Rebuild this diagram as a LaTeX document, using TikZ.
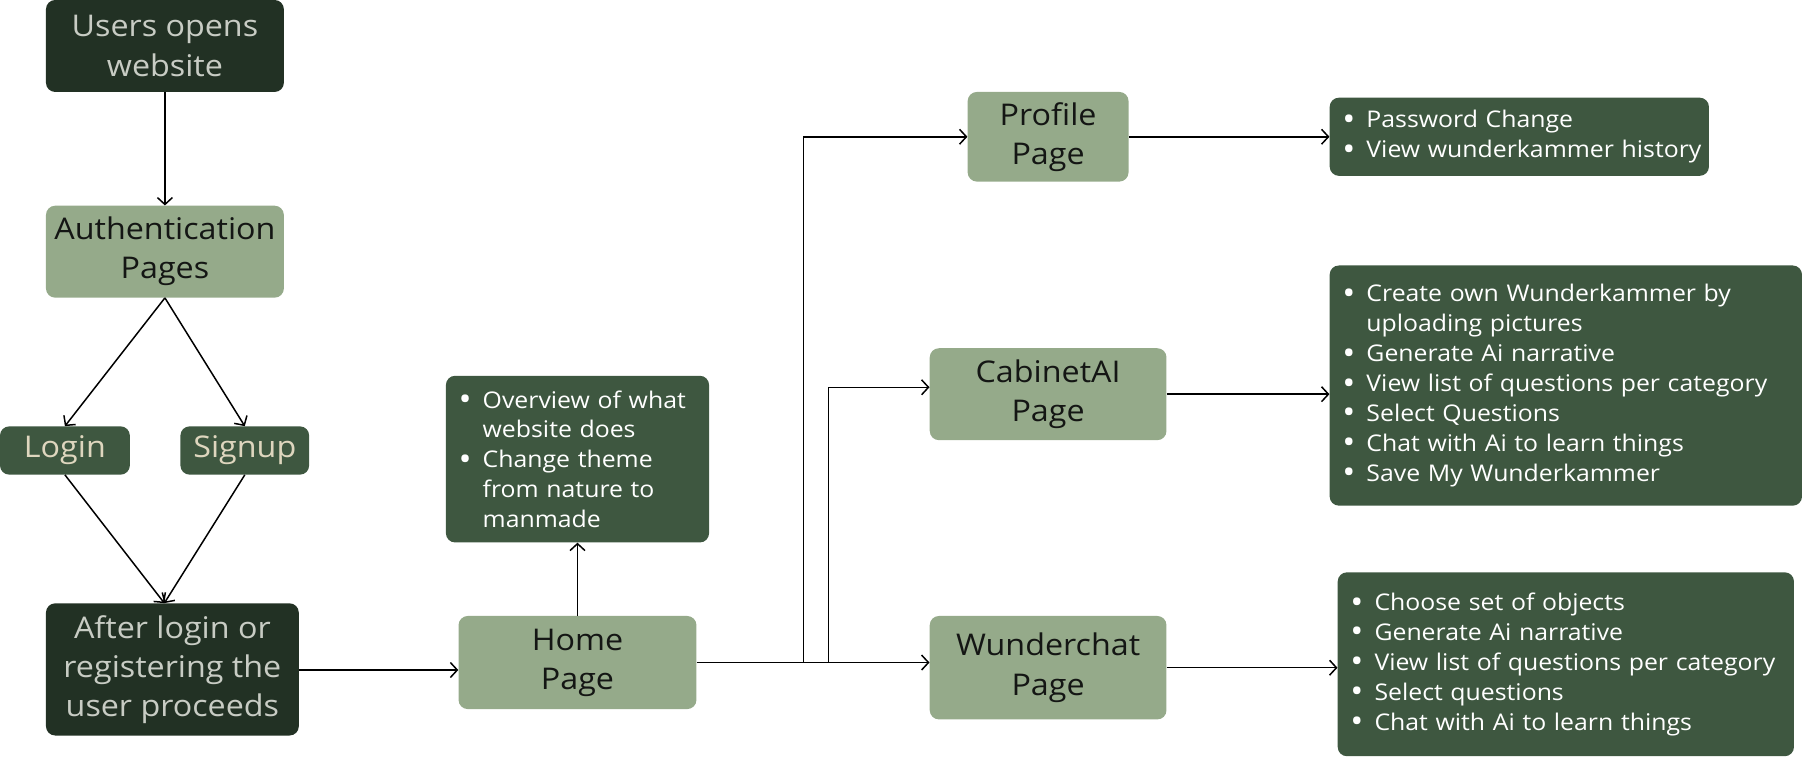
\documentclass[tikz,border=0pt]{standalone}
\usepackage{fontspec}
\setmainfont{Open Sans}[FakeStretch=1.08]
\usetikzlibrary{arrows.meta}
\definecolor{dk}{RGB}{34,49,36}
\definecolor{md}{RGB}{62,87,64}
\definecolor{lt}{RGB}{149,170,138}
\definecolor{gtxt}{RGB}{200,204,196}
\definecolor{btxt}{RGB}{222,214,190}
\definecolor{ink}{RGB}{20,22,20}
\newcommand{\myb}{\makebox[21pt][l]{\raisebox{-2.2pt}{\fontsize{28}{26}\selectfont\textbullet}}}
\newcommand{\myc}{\hspace*{21pt}}
\tikzset{
  box/.style={rectangle, rounded corners=8pt, inner sep=0pt, align=center,
    font=\fontsize{26}{34}\selectfont},
  darkbox/.style={box, fill=dk, text=gtxt},
  lightbox/.style={box, fill=lt, text=ink},
  midbox/.style={box, fill=md, text=btxt},
  listbox/.style={rectangle, rounded corners=8pt, fill=md, text=white, align=left,
    inner ysep=0pt, inner xsep=11pt, font=\fontsize{20}{26}\selectfont},
  conn/.style={draw=black, line width=1.3pt, -{Straight Barb[length=6pt,width=13pt,line width=1.3pt]}}
}
\begin{document}
\begin{tikzpicture}[x=1pt,y=-1pt]
\useasboundingbox (0,0) rectangle (1568,658);
% main nodes
\node[darkbox, minimum width=207pt, minimum height=80pt] (users) at (143.5,40) {Users opens\\website};
\node[lightbox, minimum width=207pt, minimum height=80pt] (auth) at (143.5,219) {Authentication\\Pages};
\node[midbox, minimum width=113pt, minimum height=42pt] (login) at (56.5,392) {Login};
\node[midbox, minimum width=112pt, minimum height=42pt] (signup) at (213,392) {Signup};
\node[darkbox, minimum width=220pt, minimum height=115pt] (after) at (150,582.5) {After login or\\registering the\\user proceeds};
\node[lightbox, minimum width=207pt, minimum height=81pt] (home) at (502.5,576.5) {Home\\Page};
\node[lightbox, minimum width=140pt, minimum height=78pt] (prof) at (912,119) {Profile\\Page};
\node[lightbox, minimum width=206pt, minimum height=80pt] (cab) at (912,343) {CabinetAI\\Page};
\node[lightbox, minimum width=206pt, minimum height=90pt] (wun) at (912,581) {Wunderchat\\Page};
% list boxes
\node[listbox, text width=207pt, minimum height=145pt] (over) at (502.5,399.5)
  {\myb Overview of what\\\myc website does\\\myb Change theme\\\myc from nature to\\\myc manmade};
\node[listbox, text width=308pt, minimum height=68pt] (pw) at (1322,119)
  {\myb Password Change\\\mbox{\myb View wunderkammer history}};
\node[listbox, text width=389pt, minimum height=209pt] (cre) at (1362.5,335.5)
  {\myb Create own Wunderkammer by\\\myc uploading pictures\\\myb Generate Ai narrative\\\mbox{\myb View list of questions per category}\\\myb Select Questions\\\myb Chat with Ai to learn things\\\myb Save My Wunderkammer};
\node[listbox, text width=375pt, minimum height=160pt] (cho) at (1362.5,578)
  {\myb Choose set of objects\\\myb Generate Ai narrative\\\mbox{\myb View list of questions per category}\\\myb Select questions\\\myb Chat with Ai to learn things};
% connectors
\coordinate (aftertop) at ([xshift=-7pt]after.north);
\draw[conn] (users.south) -- (auth.north);
\draw[conn] (auth.south) -- (login.north);
\draw[conn] (auth.south) -- (signup.north);
\draw[conn] (login.south) -- (aftertop);
\draw[conn] (signup.south) -- (aftertop);
\draw[conn] (after.east |- 0,583) -- (home.west |- 0,583);
\draw[conn] (home.north) -- (over.south);
\draw[conn] (home.east) -- (home.east -| wun.west);
\coordinate (j1) at (699,576.5);
\coordinate (j2) at (721,576.5);
\draw[conn] (j1) |- (prof.west);
\draw[conn] (j2) |- ([yshift=6pt]cab.west);
\draw[conn] (prof.east) -- (pw.west);
\draw[conn] (cab.east) -- (cab.east -| cre.west);
\draw[conn] (wun.east) -- (wun.east -| cho.west);
\end{tikzpicture}
\end{document}
